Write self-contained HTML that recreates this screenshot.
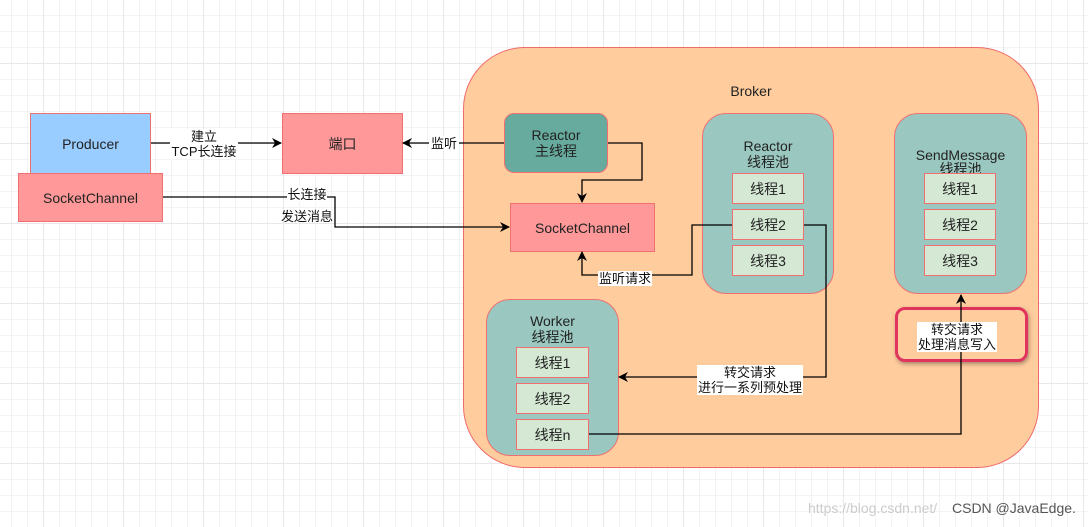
<!DOCTYPE html>
<html><head><meta charset="utf-8"><style>
html,body{margin:0;padding:0}
body{width:1088px;height:527px;overflow:hidden;background-color:#fff;
background-image:linear-gradient(#e8e8e8 1px,transparent 1px),linear-gradient(90deg,#e8e8e8 1px,transparent 1px),linear-gradient(#f3f3f3 1px,transparent 1px),linear-gradient(90deg,#f3f3f3 1px,transparent 1px);
background-size:80px 80px,80px 80px,16px 16px,16px 16px;background-position:-37px -17px;
font-family:"Liberation Sans","Noto Sans CJK SC",sans-serif;position:relative}
.b{position:absolute;box-sizing:border-box;display:flex;align-items:center;justify-content:center;text-align:center;font-size:14px;color:#222;line-height:16px}
.t{background:#d5e8d4;border:1.5px solid #f07070}
.pool{background:#9ac7bf;border:1.5px solid #f07070;border-radius:24px;align-items:flex-start;padding-top:24px}
.lbl{position:absolute;font-size:13px;line-height:15px;background:#fff;text-align:center;color:#111;font-family:"Liberation Sans","Noto Sans CJK SC",sans-serif}
</style></head><body>
<div class="b" style="left:463px;top:47px;width:576px;height:421px;background:#ffcc9e;border:1.5px solid #f06a6a;border-radius:62px;align-items:flex-start;padding-top:35px">Broker</div>
<div class="b" style="left:30px;top:113px;width:121px;height:61px;background:#99ccff;border:1.5px solid #f07070">Producer</div>
<div class="b" style="left:18px;top:173px;width:145px;height:49px;background:#ff9999;border:1.5px solid #f07070">SocketChannel</div>
<div class="b" style="left:282px;top:113px;width:121px;height:61px;background:#ff9999;border:1.5px solid #f07070">端口</div>
<div class="b" style="left:504px;top:113px;width:104px;height:60px;background:#67ab9f;border:1.5px solid #f07070;border-radius:10px">Reactor<br>主线程</div>
<div class="b" style="left:510px;top:203px;width:145px;height:49px;background:#ff9999;border:1.5px solid #f07070">SocketChannel</div>
<div class="b pool" style="left:702px;top:113px;width:132px;height:181px">Reactor<br>线程池</div>
<div class="b t" style="left:732px;top:173px;width:72px;height:31px">线程1</div>
<div class="b t" style="left:732px;top:209px;width:72px;height:31px">线程2</div>
<div class="b t" style="left:732px;top:245px;width:72px;height:31px">线程3</div>
<div class="b pool" style="left:894px;top:113px;width:133px;height:181px;padding-top:34px;line-height:14px">SendMessage<br>线程池</div>
<div class="b t" style="left:924px;top:173px;width:72px;height:31px">线程1</div>
<div class="b t" style="left:924px;top:209px;width:72px;height:31px">线程2</div>
<div class="b t" style="left:924px;top:245px;width:72px;height:31px">线程3</div>
<div class="b pool" style="left:486px;top:299px;width:133px;height:157px;padding-top:13px">Worker<br>线程池</div>
<div class="b t" style="left:516px;top:347px;width:73px;height:31px">线程1</div>
<div class="b t" style="left:516px;top:383px;width:73px;height:31px">线程2</div>
<div class="b t" style="left:516px;top:419px;width:73px;height:31px">线程n</div>
<div style="position:absolute;left:895px;top:307px;width:133px;height:55px;box-sizing:border-box;border:3px solid #e0335e;border-radius:10px;box-shadow:1px 2px 4px rgba(0,0,0,.35)"></div>
<svg width="1088" height="527" style="position:absolute;left:0;top:0">
<defs><marker id="a" markerWidth="10" markerHeight="10" refX="9" refY="5" orient="auto" markerUnits="userSpaceOnUse"><path d="M0,0 L10,5 L0,10 L3,5z" fill="#000"/></marker></defs>
<g stroke="#000" stroke-width="1.3" fill="none">
<path d="M151,143 H281" marker-end="url(#a)"/>
<path d="M504,143 H403" marker-end="url(#a)"/>
<path d="M608,143 H642 V180 H582 V202" marker-end="url(#a)"/>
<path d="M163,197 H335 V227 H509" marker-end="url(#a)"/>
<path d="M732,225 H692 V275 H582 V252" marker-end="url(#a)"/>
<path d="M804,225 H826 V377 H619" marker-end="url(#a)"/>
<path d="M589,434 H961 V295" marker-end="url(#a)"/>
</g></svg>
<div class="lbl" style="left:170px;top:129px;width:68px">建立<br>TCP长连接</div>
<div class="lbl" style="left:429px;top:136px;width:30px">监听</div>
<div class="lbl" style="left:287px;top:187px;width:40px">长连接</div>
<div class="lbl" style="left:278px;top:209px;width:58px;background:none">发送消息</div>
<div class="lbl" style="left:598px;top:271px;width:54px">监听请求</div>
<div class="lbl" style="left:697px;top:365px;width:106px">转交请求<br>进行一系列预处理</div>
<div class="lbl" style="left:917px;top:322px;width:80px">转交请求<br>处理消息写入</div>
<div style="position:absolute;left:808px;top:500px;font-size:14px;color:#ccc;font-family:'Liberation Sans',sans-serif">https://blog.csdn.net/</div>
<div style="position:absolute;left:952px;top:500px;font-size:14px;color:#555;font-family:'Liberation Sans',sans-serif">CSDN @JavaEdge.</div>
</body></html>
